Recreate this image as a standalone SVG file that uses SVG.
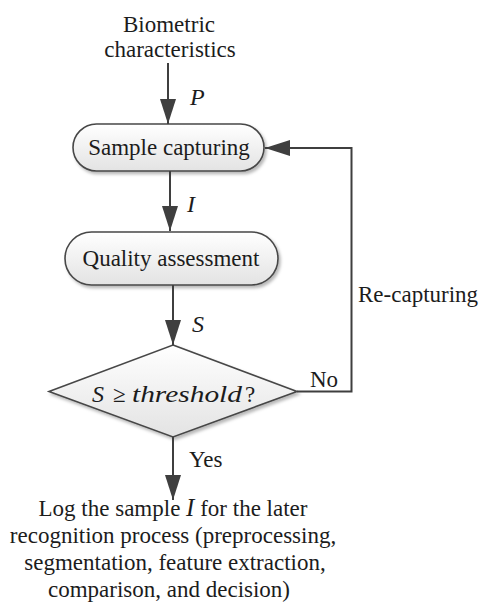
<svg xmlns="http://www.w3.org/2000/svg" width="480" height="605" viewBox="0 0 480 605" font-family="'Liberation Serif', Tinos, 'Times New Roman', 'DejaVu Serif', serif">
  <defs>
    <linearGradient id="nodeFill" x1="0" y1="0" x2="0" y2="1">
      <stop offset="0" stop-color="#ffffff"/>
      <stop offset="1" stop-color="#e3e3e3"/>
    </linearGradient>
    <filter id="shadow" x="-10%" y="-20%" width="125%" height="150%">
      <feDropShadow dx="2" dy="2.5" stdDeviation="1.6" flood-color="#000" flood-opacity="0.28"/>
    </filter>
    <marker id="arrow" markerUnits="userSpaceOnUse" markerWidth="25" markerHeight="16" refX="25" refY="8" orient="auto">
      <path d="M0,0 L25,8 L0,16 z" fill="#3f3f3f"/>
    </marker>
  </defs>
  <style>
    text { font-family: 'Liberation Serif', Tinos, 'Times New Roman', 'DejaVu Serif', serif; font-size: 23px; fill: #1c1c1c; }
    .var { font-style: italic; font-size: 24px; }
    .node { fill: url(#nodeFill); stroke: #474747; stroke-width: 1.6; filter: url(#shadow); }
    .edge { fill: none; stroke: #3f3f3f; stroke-width: 2; marker-end: url(#arrow); }
  </style>

  <rect width="480" height="605" fill="#ffffff"/>

  <!-- input label -->
  <g id="input">
    <text x="169" y="32" text-anchor="middle">Biometric</text>
    <text x="170" y="57" text-anchor="middle">characteristics</text>
  </g>

  <!-- process steps -->
  <g id="sample-capturing">
    <rect class="node" x="73" y="124" width="191" height="47" rx="23.5"/>
    <text x="169" y="155" text-anchor="middle">Sample capturing</text>
  </g>

  <g id="quality-assessment">
    <rect class="node" x="65" y="232" width="213" height="53" rx="26.5"/>
    <text x="171" y="266" text-anchor="middle">Quality assessment</text>
  </g>

  <g id="decision">
    <polygon class="node" points="173,345 297,391.5 173,437 49,391.5"/>
    <text y="402"><tspan class="var" x="92">S</tspan><tspan x="113">≥</tspan><tspan class="var" x="132" textLength="110" lengthAdjust="spacingAndGlyphs">threshold</tspan><tspan x="245">?</tspan></text>
  </g>

  <!-- output description -->
  <g id="output">
    <text x="173" y="516" text-anchor="middle">Log the sample <tspan font-style="italic" font-size="25px">I</tspan> for the later</text>
    <text x="173" y="543" text-anchor="middle">recognition process (preprocessing,</text>
    <text x="175" y="570" text-anchor="middle">segmentation, feature extraction,</text>
    <text x="169" y="597" text-anchor="middle">comparison, and decision)</text>
  </g>

  <!-- connectors -->
  <g id="connectors">
    <line class="edge" x1="168" y1="63" x2="168" y2="124"/>
    <line class="edge" x1="170" y1="171" x2="170" y2="231"/>
    <line class="edge" x1="173" y1="285" x2="173" y2="345"/>
    <line class="edge" x1="173" y1="437" x2="173" y2="500"/>
    <polyline class="edge" points="297,391.5 351.5,391.5 351.5,148 265,148"/>
    <text class="var" x="190" y="105">P</text>
    <text class="var" x="187" y="212">I</text>
    <text class="var" x="192" y="332">S</text>
    <text x="189" y="467">Yes</text>
    <text x="310" y="387">No</text>
    <text x="358" y="302">Re-capturing</text>
  </g>
</svg>
